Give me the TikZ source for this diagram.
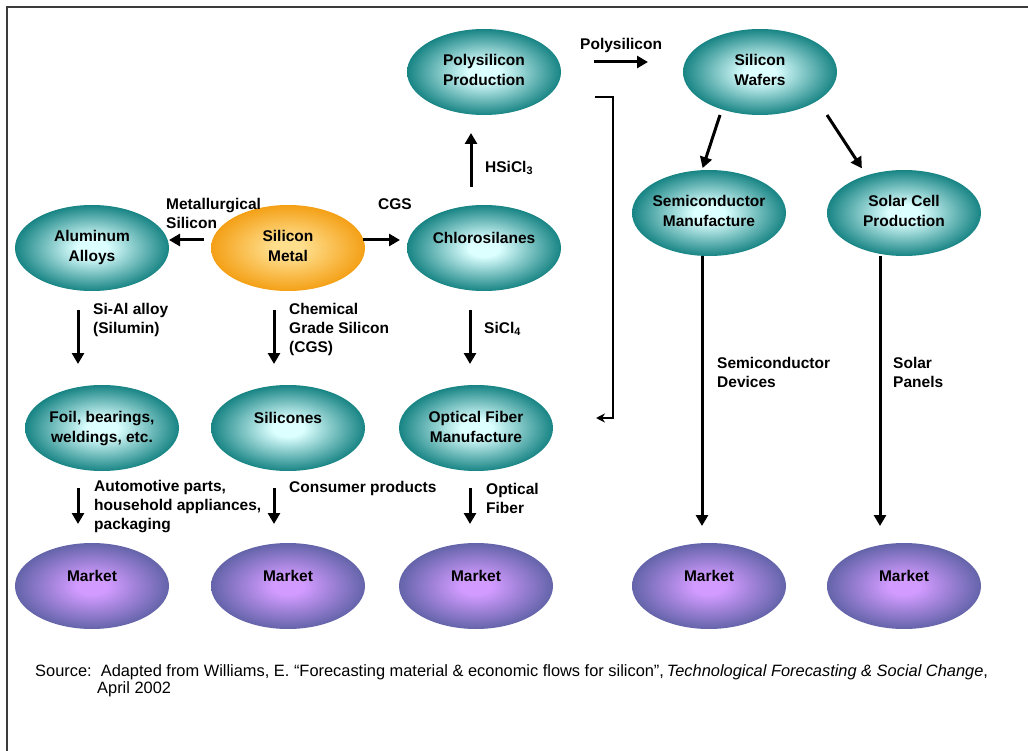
\documentclass[tikz,border=0pt]{standalone}
\usepackage{fontspec}
\setmainfont{Liberation Sans}
\usetikzlibrary{shapes.geometric,arrows.meta}

\definecolor{tealout}{RGB}{24,132,132}
\definecolor{tealin}{RGB}{220,255,255}
\definecolor{orgout}{RGB}{244,160,22}
\definecolor{orgin}{RGB}{255,222,140}
\definecolor{mktout}{RGB}{100,100,170}
\definecolor{mktin}{RGB}{210,155,255}
\definecolor{framegray}{RGB}{60,60,60}

% glow shadings, light centre held a little before fading to the rim
\pgfdeclareradialshading{tealglow}{\pgfpoint{0bp}{0bp}}{color(0bp)=(tealin); color(5bp)=(tealin); color(25bp)=(tealout); color(50bp)=(tealout)}
\pgfdeclareradialshading{orgglow}{\pgfpoint{0bp}{0bp}}{color(0bp)=(orgin); color(5bp)=(orgin); color(25bp)=(orgout); color(50bp)=(orgout)}
\pgfdeclareradialshading{mktglow}{\pgfpoint{0bp}{0bp}}{color(0bp)=(mktin); color(5bp)=(mktin); color(25bp)=(mktout); color(50bp)=(mktout)}

% text inside an ellipse: centred, kept out of the shape size
\newcommand{\twotext}[1]{\makebox[0pt]{\begin{tabular}{@{}c@{}}#1\end{tabular}}}
\newcommand{\uptext}[1]{\makebox[0pt]{\raisebox{0pt}[11pt][20pt]{#1}}}

\tikzset{
  stage/.style={ellipse, inner sep=0pt, outer sep=0pt, minimum width=154pt, minimum height=86pt,
    font=\bfseries\fontsize{15.5}{20}\selectfont, shade, shading=tealglow},
  metal/.style={stage, shading=orgglow},
  market/.style={stage, shading=mktglow},
  lbl/.style={anchor=west, inner sep=0pt, align=left, font=\bfseries\fontsize{15.5}{19}\selectfont},
  flow/.style={line width=3pt, -{Triangle[length=11pt,width=12pt]}},
  feedback/.style={line width=1.4pt, -{Stealth[length=9pt,width=9pt]}},
  srctext/.style={anchor=west, inner sep=0pt, font=\fontsize{16.4}{16}\selectfont},
}

\begin{document}
\begin{tikzpicture}[x=1pt,y=-1pt]
  \useasboundingbox (0,0) rectangle (1028,751);
  \draw[framegray, line width=2pt] (7,751) -- (7,7) -- (1028,7);

  % process stages
  \node[stage] (poly) at (484,72) {\twotext{Polysilicon\\Production}};
  \node[stage] (wafers) at (760,72) {\twotext{Silicon\\Wafers}};
  \node[stage] (semi) at (709,213) {\twotext{Semiconductor\\Manufacture}};
  \node[stage] (solar) at (904,213) {\twotext{Solar Cell\\Production}};
  \node[stage] (alloys) at (92,248) {\twotext{Aluminum\\Alloys}};
  \node[metal] (simetal) at (288,248) {\twotext{Silicon\\Metal}};
  \node[stage] (chloro) at (484,248) {\uptext{Chlorosilanes}};
  \node[stage] (foil) at (102,428) {\twotext{Foil, bearings,\\weldings, etc.}};
  \node[stage] (silicones) at (288,428) {\uptext{Silicones}};
  \node[stage] (fiber) at (476,428) {\twotext{Optical Fiber\\Manufacture}};

  % markets
  \node[market] (mkta) at (92,586) {\uptext{Market}};
  \node[market] (mktb) at (288,586) {\uptext{Market}};
  \node[market] (mktc) at (476,586) {\uptext{Market}};
  \node[market] (mktd) at (709,586) {\uptext{Market}};
  \node[market] (mkte) at (904,586) {\uptext{Market}};

  % flows out of silicon metal
  \draw[flow, shorten <=7pt] ([yshift=8pt]simetal.west) -- ([yshift=8pt]alloys.east);
  \draw[flow, shorten <=-2pt, shorten >=7pt] ([yshift=8pt]simetal.east) -- ([yshift=8pt]chloro.west);
  \draw[flow, shorten <=18pt, shorten >=18pt] ([xshift=-13pt]chloro.north) -- ([xshift=-13pt]poly.south);
  \draw[flow, shorten <=33pt, shorten >=35pt] ([yshift=10pt]poly.east) -- ([yshift=10pt]wafers.west);
  \draw[feedback, shorten >=43pt] ([xshift=34pt,yshift=-25pt]poly.east) -- ++(18,0) |- ([yshift=10pt]fiber.east);

  % wafers to devices
  \draw[flow, shorten >=2pt] ([xshift=-40pt]wafers.south) -- ([xshift=-7pt]semi.north);
  \draw[flow, shorten >=2pt] ([xshift=67pt]wafers.south) -- ([xshift=-41pt]solar.north);
  \draw[flow, shorten >=17pt] ([xshift=-7pt]semi.south) -- ([xshift=-7pt]mktd.north);
  \draw[flow, shorten >=17pt] ([xshift=-24pt]solar.south) -- ([xshift=-24pt]mkte.north);

  % columns down to the markets
  \draw[flow, shorten <=19pt, shorten >=21pt] ([xshift=-14pt]alloys.south) -- ([xshift=-24pt]foil.north);
  \draw[flow, shorten <=19pt, shorten >=21pt] ([xshift=-14pt]simetal.south) -- ([xshift=-14pt]silicones.north);
  \draw[flow, shorten <=19pt, shorten >=21pt] ([xshift=-14pt]chloro.south) -- ([xshift=-6pt]fiber.north);
  \draw[flow, shorten <=17pt, shorten >=19pt] ([xshift=-24pt]foil.south) -- ([xshift=-14pt]mkta.north);
  \draw[flow, shorten <=17pt, shorten >=19pt] ([xshift=-14pt]silicones.south) -- ([xshift=-14pt]mktb.north);
  \draw[flow, shorten <=17pt, shorten >=19pt] ([xshift=-6pt]fiber.south) -- ([xshift=-6pt]mktc.north);

  % flow labels
  \node[lbl] (metsi) at (166,213) {Metallurgical\\Silicon};
  \node[lbl] (cgs) at (378,204) {CGS};
  \node[lbl] (hsicl) at (485,168) {HSiCl\textsubscript{3}};
  \node[lbl] (polylbl) at (580,45) {Polysilicon};
  \node[lbl] (sial) at (93,320) {Si-Al alloy\\(Silumin)};
  \node[lbl] (cgslbl) at (289,329) {Chemical\\Grade Silicon\\(CGS)};
  \node[lbl] (sicl) at (484,329) {SiCl\textsubscript{4}};
  \node[lbl] (auto) at (94,507) {Automotive parts,\\household appliances,\\packaging};
  \node[lbl] (cons) at (289,488) {Consumer products};
  \node[lbl] (optf) at (486,498) {Optical\\Fiber};
  \node[lbl] (devices) at (717,372) {Semiconductor\\Devices};
  \node[lbl] (panels) at (893,372) {Solar\\Panels};

  % source
  \node[srctext] (src) at (35,672)
    {Source:\ \ Adapted from Williams, E. “Forecasting material \& economic flows for silicon”,\,\textit{Technological Forecasting \& Social Change},};
  \node[srctext] (srcdate) at (97,689) {April 2002};
\end{tikzpicture}
\end{document}
